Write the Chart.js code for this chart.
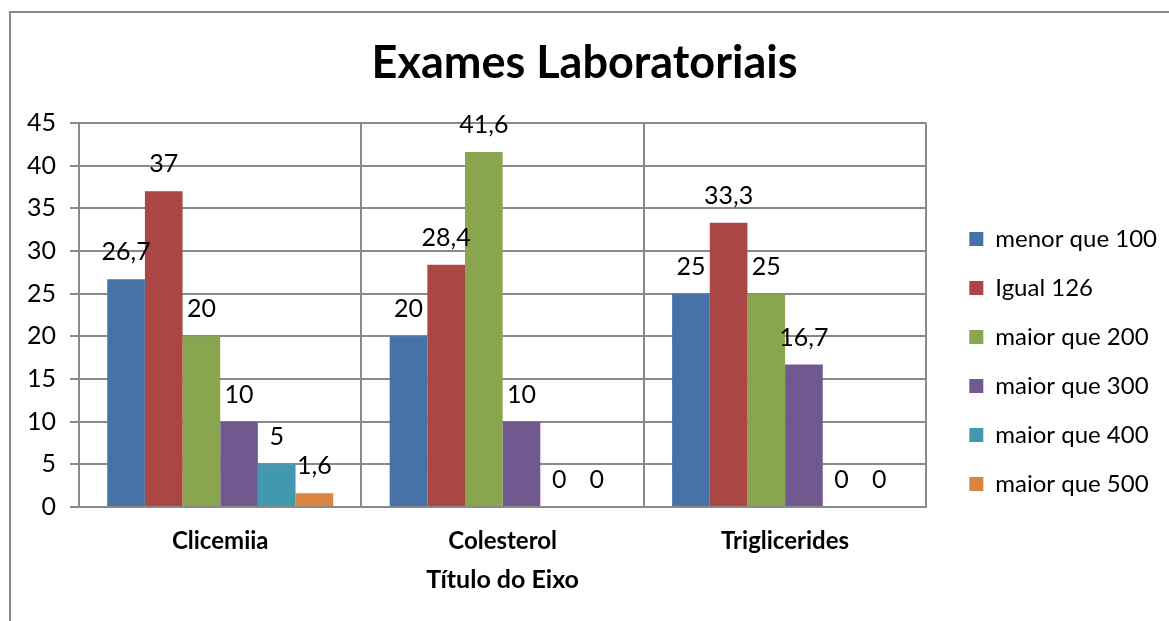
<!DOCTYPE html>
<html>
<head>
<meta charset="utf-8">
<script src="https://cdn.jsdelivr.net/npm/chart.js@4.4.1/dist/chart.umd.min.js"></script>
<style>
  html, body { margin: 0; padding: 0; background: #fff; }
  #wrap { width: 1169px; height: 621px; }
</style>
</head>
<body>
<div id="wrap"><canvas id="barChart" width="1169" height="621"></canvas></div>
<script>
const categories = ['Clicemiia', 'Colesterol', 'Triglicerides'];
const seriesNames = ['menor que 100', 'Igual 126', 'maior que 200', 'maior que 300', 'maior que 400', 'maior que 500'];
const menor100 = [26.7, 20, 25];
const igual126 = [37, 28.4, 33.3];
const maior200 = [20, 41.6, 25];
const maior300 = [10, 10, 16.7];
const maior400 = [5, 0, 0];
const maior500 = [1.6, 0, 0];
const seriesColors = ['#4572A7', '#AA4643', '#89A54E', '#71588F', '#4198AF', '#DB843D'];

const gridColor = '#8a8a8a';
const fontFamily = 'Lato, "Open Sans", sans-serif';

const allSeries = [menor100, igual126, maior200, maior300, maior400, maior500];

// value labels above each bar, decimal comma like the original
const valueLabels = {
    id: 'valueLabels',
    afterDatasetsDraw: (chart) => {
        const ctx = chart.ctx;
        ctx.save();
        ctx.font = '25px ' + fontFamily;
        ctx.fillStyle = '#000';
        ctx.textAlign = 'center';
        ctx.textBaseline = 'middle';
        chart.data.datasets.forEach((ds, i) => {
            chart.getDatasetMeta(i).data.forEach((bar, j) => {
                const txt = String(ds.data[j]).replace('.', ',');
                ctx.fillText(txt, bar.x, bar.y - 27);
            });
        });
        ctx.restore();
    }
};

// outer frame of the chart object
const frame = {
    id: 'frame',
    beforeDraw: (chart) => {
        const ctx = chart.ctx;
        ctx.save();
        ctx.fillStyle = 'white';
        ctx.fillRect(0, 0, chart.width, chart.height);
        ctx.strokeStyle = '#8c8c8c';
        ctx.lineWidth = 2;
        ctx.strokeRect(10, 12, chart.width + 20, chart.height + 20);
        ctx.restore();
    }
};

// nudge the legend right and down, as in the original
const legendShift = {
    id: 'legendShift',
    afterLayout: (chart) => {
        chart.legend.left += 18;
        chart.legend.right += 18;
        chart.legend.top += 54;
        chart.legend.bottom += 54;
    }
};

new Chart(document.getElementById('barChart').getContext('2d'), {
    type: 'bar',
    data: {
        labels: categories,
        datasets: allSeries.map((vals, i) => ({
            label: seriesNames[i],
            data: vals,
            backgroundColor: seriesColors[i],
            borderWidth: 0
        }))
    },
    options: {
        responsive: false,
        animation: false,
        layout: { padding: { left: 20, right: 20, top: 20, bottom: 26 } },
        datasets: { bar: { categoryPercentage: 0.8, barPercentage: 1.0 } },
        scales: {
            x: {
                afterFit: (scale) => { scale.height = 88; },
                grid: { color: gridColor, lineWidth: 2, drawTicks: false, offset: true },
                border: { color: gridColor, width: 2 },
                ticks: { color: '#000', padding: 20, font: { family: fontFamily, size: 24, weight: 'bold' } },
                title: { display: true, text: 'Título do Eixo', color: '#000', padding: 0,
                         font: { family: fontFamily, size: 25, weight: 'bold' } }
            },
            y: {
                min: 0,
                max: 45,
                afterFit: (scale) => { scale.width = 59; },
                grid: { color: gridColor, lineWidth: 2, tickLength: 9 },
                border: { color: gridColor, width: 2 },
                ticks: { stepSize: 5, color: '#000', padding: 14, font: { family: fontFamily, size: 25 } }
            }
        },
        plugins: {
            title: {
                display: true,
                text: 'Exames Laboratoriais',
                color: '#000',
                padding: { top: 16, bottom: 33 },
                font: { family: fontFamily, size: 45, weight: 'bold' }
            },
            legend: {
                position: 'right',
                labels: {
                    color: '#000',
                    boxWidth: 14,
                    boxHeight: 14,
                    padding: 25,
                    font: { family: fontFamily, size: 24 }
                }
            },
            tooltip: { enabled: false }
        }
    },
    plugins: [frame, valueLabels, legendShift]
});
</script>
</body>
</html>
